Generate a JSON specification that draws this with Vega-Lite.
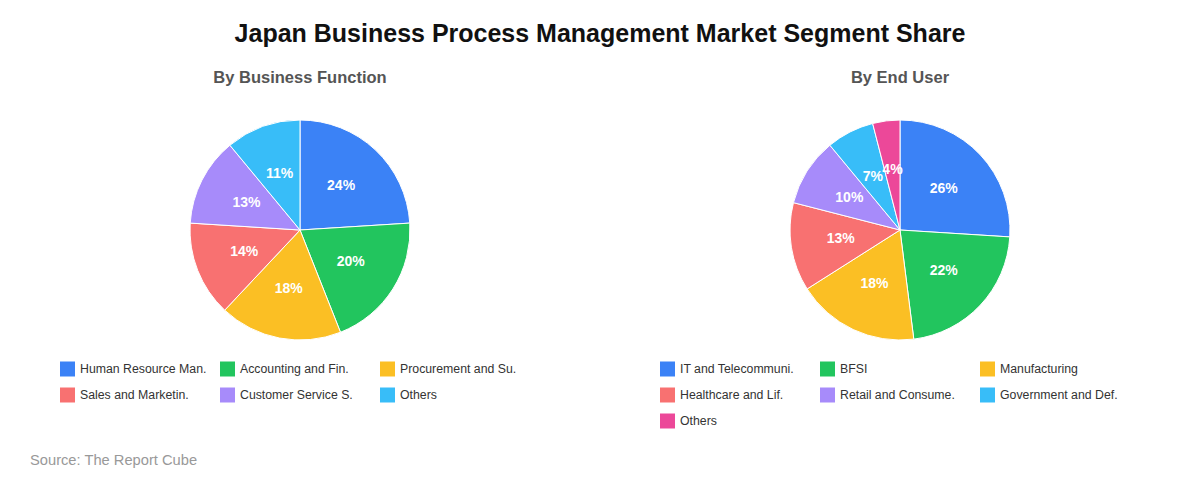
{
  "$schema": "https://vega.github.io/schema/vega-lite/v6.json",
  "padding": {"top": 21, "left": 0, "right": 0, "bottom": 10},
  "background": "white",
  "config": {
    "view": {"stroke": null},
    "font": "Liberation Sans",
    "legend": {"padding": 0}
  },
  "title": {
    "text": "Source: The Report Cube",
    "orient": "bottom",
    "anchor": "start",
    "dx": 30,
    "offset": 24,
    "fontSize": 14.7,
    "fontWeight": "normal",
    "color": "#999999",
    "font": "Liberation Sans"
  },
  "vconcat": [
    {
      "title": {
        "text": "Japan Business Process Management Market Segment Share",
        "fontSize": 25,
        "fontWeight": "bold",
        "color": "#111111",
        "anchor": "middle",
        "offset": 23,
        "font": "Liberation Sans"
      },
      "spacing": 0,
      "resolve": {"scale": {"color": "independent", "theta": "independent"}, "legend": {"color": "independent"}},
      "hconcat": [
        {
          "title": {"text": "By Business Function", "fontSize": 16.5, "fontWeight": "bold", "color": "#555555", "anchor": "middle", "offset": 32},
          "width": 600,
          "height": 220,
          "data": {"values": [
            {"idx": 1, "segment": "Human Resource Man.", "share": 24, "label": "24%"},
            {"idx": 2, "segment": "Accounting and Fin.", "share": 20, "label": "20%"},
            {"idx": 3, "segment": "Procurement and Su.", "share": 18, "label": "18%"},
            {"idx": 4, "segment": "Sales and Marketin.", "share": 14, "label": "14%"},
            {"idx": 5, "segment": "Customer Service S.", "share": 13, "label": "13%"},
            {"idx": 6, "segment": "Others", "share": 11, "label": "11%"}
          ]},
          "encoding": {
            "theta": {"field": "share", "type": "quantitative", "stack": true},
            "order": {"field": "idx", "type": "quantitative"}
          },
          "layer": [
            {
              "mark": {"type": "arc", "stroke": "white", "strokeWidth": 1},
              "encoding": {
                "color": {
                  "field": "segment", "type": "nominal",
                  "scale": {"domain": ["Human Resource Man.", "Accounting and Fin.", "Procurement and Su.", "Sales and Marketin.", "Customer Service S.", "Others"],
                            "range": ["#3b82f6", "#22c55e", "#fbbf24", "#f87171", "#a78bfa", "#38bdf8"]},
                  "legend": {"orient": "none", "legendX": 60, "legendY": 241.5, "direction": "horizontal", "columns": 3, "title": null,
                             "symbolType": "square", "symbolSize": 225, "symbolStrokeWidth": 0, "symbolOpacity": 1,
                             "labelFontSize": 12.3, "labelColor": "#333333", "labelOffset": 5, "labelLimit": 300,
                             "columnPadding": 13, "rowPadding": 11, "gridAlign": "all"}
                }
              }
            },
            {
              "mark": {"type": "text", "radius": 60, "fontSize": 14, "fontWeight": "bold", "fill": "white"},
              "encoding": {"text": {"field": "label", "type": "nominal"}}
            }
          ]
        },
        {
          "title": {"text": "By End User", "fontSize": 16.5, "fontWeight": "bold", "color": "#555555", "anchor": "middle", "offset": 32},
          "width": 600,
          "height": 220,
          "data": {"values": [
            {"idx": 1, "segment": "IT and Telecommuni.", "share": 26, "label": "26%"},
            {"idx": 2, "segment": "BFSI", "share": 22, "label": "22%"},
            {"idx": 3, "segment": "Manufacturing", "share": 18, "label": "18%"},
            {"idx": 4, "segment": "Healthcare and Lif.", "share": 13, "label": "13%"},
            {"idx": 5, "segment": "Retail and Consume.", "share": 10, "label": "10%"},
            {"idx": 6, "segment": "Government and Def.", "share": 7, "label": "7%"},
            {"idx": 7, "segment": "Others", "share": 4, "label": "4%"}
          ]},
          "encoding": {
            "theta": {"field": "share", "type": "quantitative", "stack": true},
            "order": {"field": "idx", "type": "quantitative"}
          },
          "layer": [
            {
              "mark": {"type": "arc", "stroke": "white", "strokeWidth": 1},
              "encoding": {
                "color": {
                  "field": "segment", "type": "nominal",
                  "scale": {"domain": ["IT and Telecommuni.", "BFSI", "Manufacturing", "Healthcare and Lif.", "Retail and Consume.", "Government and Def.", "Others"],
                            "range": ["#3b82f6", "#22c55e", "#fbbf24", "#f87171", "#a78bfa", "#38bdf8", "#ec4899"]},
                  "legend": {"orient": "none", "legendX": 60, "legendY": 241.5, "direction": "horizontal", "columns": 3, "title": null,
                             "symbolType": "square", "symbolSize": 225, "symbolStrokeWidth": 0, "symbolOpacity": 1,
                             "labelFontSize": 12.3, "labelColor": "#333333", "labelOffset": 5, "labelLimit": 300,
                             "columnPadding": 22, "rowPadding": 11, "gridAlign": "all"}
                }
              }
            },
            {
              "mark": {"type": "text", "radius": 60, "fontSize": 14, "fontWeight": "bold", "fill": "white"},
              "encoding": {"text": {"field": "label", "type": "nominal"}}
            }
          ]
        }
      ]
    }
  ]
}
